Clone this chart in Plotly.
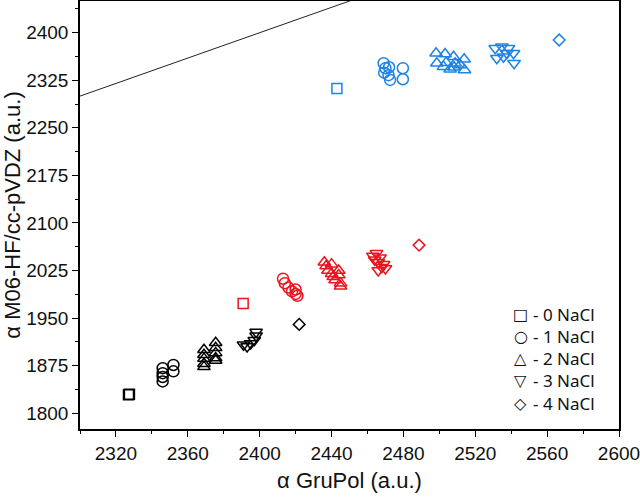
import plotly.graph_objects as go

# ---- data (alpha GruPol, alpha M06-HF/cc-pVDZ) ----
# black cluster
blk_sq_x = [2327, 2327.5]
blk_sq_y = [1829, 1830]
blk_ci_x = [2346, 2346, 2346, 2346, 2352, 2352]
blk_ci_y = [1871, 1863, 1857, 1850, 1876, 1866]
blk_tu_x = [2369, 2369, 2369, 2369, 2369, 2375.5, 2375.5, 2375.5, 2375.5, 2375.5]
blk_tu_y = [1900, 1892, 1886, 1878, 1873, 1911, 1903, 1895, 1887, 1883]
blk_td_x = [2391, 2393, 2395, 2397, 2398, 2398]
blk_td_y = [1908, 1905, 1910, 1915, 1922, 1928]
blk_di_x = [2422]
blk_di_y = [1940]

# red cluster
red_sq_x = [2390.8]
red_sq_y = [1973]
red_ci_x = [2413, 2414, 2416, 2420, 2420, 2421, 2418]
red_ci_y = [2012, 2005, 1998, 1995, 1988, 1985, 1992]
red_tu_x = [2436, 2437, 2438, 2440, 2441, 2442, 2444, 2444, 2445, 2445, 2440]
red_tu_y = [2038, 2032, 2025, 2020, 2015, 2010, 2025, 2018, 2005, 2000, 2035]
red_td_x = [2463, 2464, 2465, 2466, 2467, 2468, 2469, 2470, 2466]
red_td_y = [2048, 2042, 2052, 2038, 2045, 2030, 2035, 2028, 2025]
red_di_x = [2488.7]
red_di_y = [2065]

# blue cluster
blu_sq_x = [2443]
blu_sq_y = [2312]
blu_ci_x = [2469, 2470, 2472, 2469.3, 2471.7, 2472.6, 2479.7, 2479.7]
blu_ci_y = [2352, 2344, 2345.5, 2337, 2333, 2325.5, 2344, 2326.6]
blu_tu_x = [2498.2, 2503.2, 2507.9, 2498.6, 2503.8, 2508.8, 2513.8, 2506, 2514, 2508.2, 2502.3, 2511.6]
blu_tu_y = [2367.6, 2366.5, 2362.2, 2351.8, 2352.8, 2351.8, 2358, 2342.3, 2341.2, 2345.5, 2346.5, 2349]
blu_td_x = [2531.1, 2534.8, 2538.5, 2532, 2535.7, 2541.3, 2537.6, 2541.6]
blu_td_y = [2375.5, 2378, 2375.5, 2359.7, 2362.2, 2367.6, 2367.6, 2351.8]
blu_di_x = [2566.7]
blu_di_y = [2388.5]

diag = [2300, 2600]  # reference line y = x

legend_glyphs = ["□", "○", "△", "▽", "◇"]
legend_labels = ["- 0 NaCl", "- 1 NaCl", "- 2 NaCl", "- 3 NaCl", "- 4 NaCl"]
symbols = ["square-open", "circle-open", "triangle-up-open", "triangle-down-open", "diamond-open"]
sizes = [10, 11, 11, 11, 9]

BLACK = "#000000"
RED = "#e8141e"
BLUE = "#1e82e6"
TICKFONT = "Liberation Sans, Arial, sans-serif"

fig = go.Figure()

fig.add_trace(go.Scatter(x=diag, y=diag, mode="lines",
                         line=dict(color="#222222", width=1), showlegend=False,
                         hoverinfo="skip"))

groups = [
    (BLACK, [(blk_sq_x, blk_sq_y), (blk_ci_x, blk_ci_y), (blk_tu_x, blk_tu_y), (blk_td_x, blk_td_y), (blk_di_x, blk_di_y)]),
    (RED, [(red_sq_x, red_sq_y), (red_ci_x, red_ci_y), (red_tu_x, red_tu_y), (red_td_x, red_td_y), (red_di_x, red_di_y)]),
    (BLUE, [(blu_sq_x, blu_sq_y), (blu_ci_x, blu_ci_y), (blu_tu_x, blu_tu_y), (blu_td_x, blu_td_y), (blu_di_x, blu_di_y)]),
]

for color, sets in groups:
    for i, (xs, ys) in enumerate(sets):
        fig.add_trace(go.Scatter(
            x=xs, y=ys, mode="markers", showlegend=False,
            marker=dict(symbol=symbols[i], size=sizes[i], color=color,
                        line=dict(color=color, width=1.5)),
        ))

# text legend: glyph column + label column, stacked from the top row down
row_top = 0.268      # paper y of first row centre
row_step = 0.0519    # spacing between rows in paper units
for i, (g, label) in enumerate(zip(legend_glyphs, legend_labels)):
    yy = row_top - i * row_step
    fig.add_annotation(
        xref="paper", yref="paper", x=0.818, y=yy,
        xanchor="center", yanchor="middle", showarrow=False, text=g,
        font=dict(family="DejaVu Sans", size=16, color="#111"),
    )
    fig.add_annotation(
        xref="paper", yref="paper", x=0.836, y=yy,
        xanchor="left", yanchor="middle", showarrow=False, text=label,
        font=dict(family="Noto Sans, sans-serif", size=17, color="#111"),
    )

axis_common = dict(
    showline=True, linecolor="black", linewidth=1.5, mirror=True,
    ticks="outside", ticklen=6, tickwidth=1.2, tickcolor="black",
    showgrid=False, zeroline=False, automargin=False, ticklabeloverflow="allow",
    tickfont=dict(family=TICKFONT, size=19, color="#111"),
)

fig.update_layout(
    width=640, height=497,
    margin=dict(l=80, r=21, t=1, b=68),
    plot_bgcolor="white", paper_bgcolor="white",
    showlegend=False,
    xaxis=dict(range=[2300, 2600], tick0=2320, dtick=40,
               minor=dict(dtick=20, tick0=2300, ticklen=3, ticks="outside", tickcolor="black"),
               title=dict(text="α GruPol (a.u.)", standoff=10,
                          font=dict(family=TICKFONT, size=22, color="#111")),
               **axis_common),
    yaxis=dict(range=[1775, 2450], tick0=1800, dtick=75,
               minor=dict(dtick=37.5, tick0=1800, ticklen=3, ticks="outside", tickcolor="black"),
               title=dict(text="α M06-HF/cc-pVDZ (a.u.)", standoff=5,
                          font=dict(family=TICKFONT, size=22, color="#111")),
               **axis_common),
)

fig.write_html("out.html", config={"displayModeBar": False},
               post_script="document.body.style.margin='0';document.body.style.padding='0';")
